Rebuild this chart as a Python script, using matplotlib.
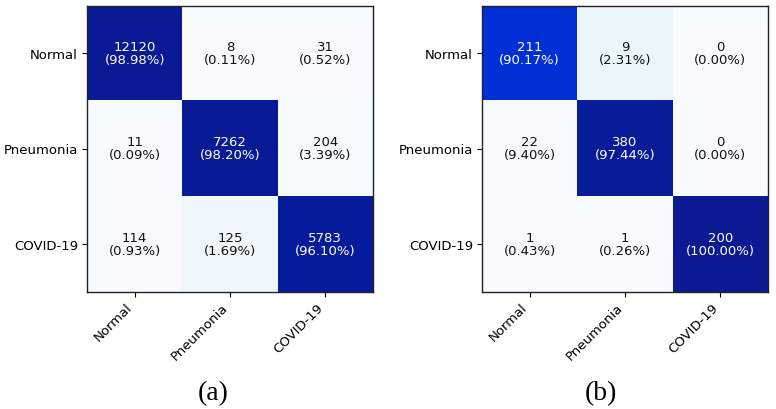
import matplotlib
matplotlib.use("Agg")
import matplotlib.pyplot as plt
import numpy as np
from matplotlib.colors import LinearSegmentedColormap

classes = ["Normal", "Pneumonia", "COVID-19"]

# confusion matrices (rows = predicted, columns = true class)
counts_a = np.array([[12120, 8, 31],
                     [11, 7262, 204],
                     [114, 125, 5783]])
counts_b = np.array([[211, 9, 0],
                     [22, 380, 0],
                     [1, 1, 200]])

panel_labels = ["(a)", "(b)"]

cmap = LinearSegmentedColormap.from_list("cm", [
    (0.0, "#f7fbff"), (0.012, "#f6fafe"), (0.017, "#eef7fc"), (0.023, "#e6f5fb"),
    (0.03, "#f5fafe"), (0.10, "#f7fbff"), (0.90, "#0030d8"),
    (0.96, "#061c9e"), (1.0, "#0b1a92")])


def draw_cm(ax, counts):
    pct = counts / counts.sum(axis=0, keepdims=True)
    ax.imshow(pct, cmap=cmap, vmin=0, vmax=1, interpolation="nearest")
    for i in range(counts.shape[0]):
        for j in range(counts.shape[1]):
            color = "white" if pct[i, j] > 0.5 else "#111111"
            ax.text(j, i, "%d\n(%.2f%%)" % (counts[i, j], 100 * pct[i, j]),
                    ha="center", va="center", color=color, fontsize=9.5,
                    linespacing=1.0)
    ax.set_xticks(range(len(classes)))
    ax.set_yticks(range(len(classes)))
    ax.set_xticklabels(classes, rotation=45, ha="right", fontsize=9.5)
    ax.set_yticklabels(classes, fontsize=9.5)
    ax.tick_params(length=3.5, width=0.8, pad=3)
    for s in ax.spines.values():
        s.set_linewidth(1.0)
        s.set_color("#222222")


fig = plt.figure(figsize=(7.76, 4.10), dpi=100)
ax1 = fig.add_axes([87 / 776, 1 - 293 / 410, 286 / 776, 287 / 410])
ax2 = fig.add_axes([482 / 776, 1 - 293 / 410, 286 / 776, 287 / 410])
draw_cm(ax1, counts_a)
draw_cm(ax2, counts_b)

fig.text(213 / 776, 16 / 410, panel_labels[0], ha="center", va="center",
         fontsize=20, family="Liberation Serif")
fig.text(601 / 776, 16 / 410, panel_labels[1], ha="center", va="center",
         fontsize=20, family="Liberation Serif")

fig.savefig("out.png", dpi=100)
